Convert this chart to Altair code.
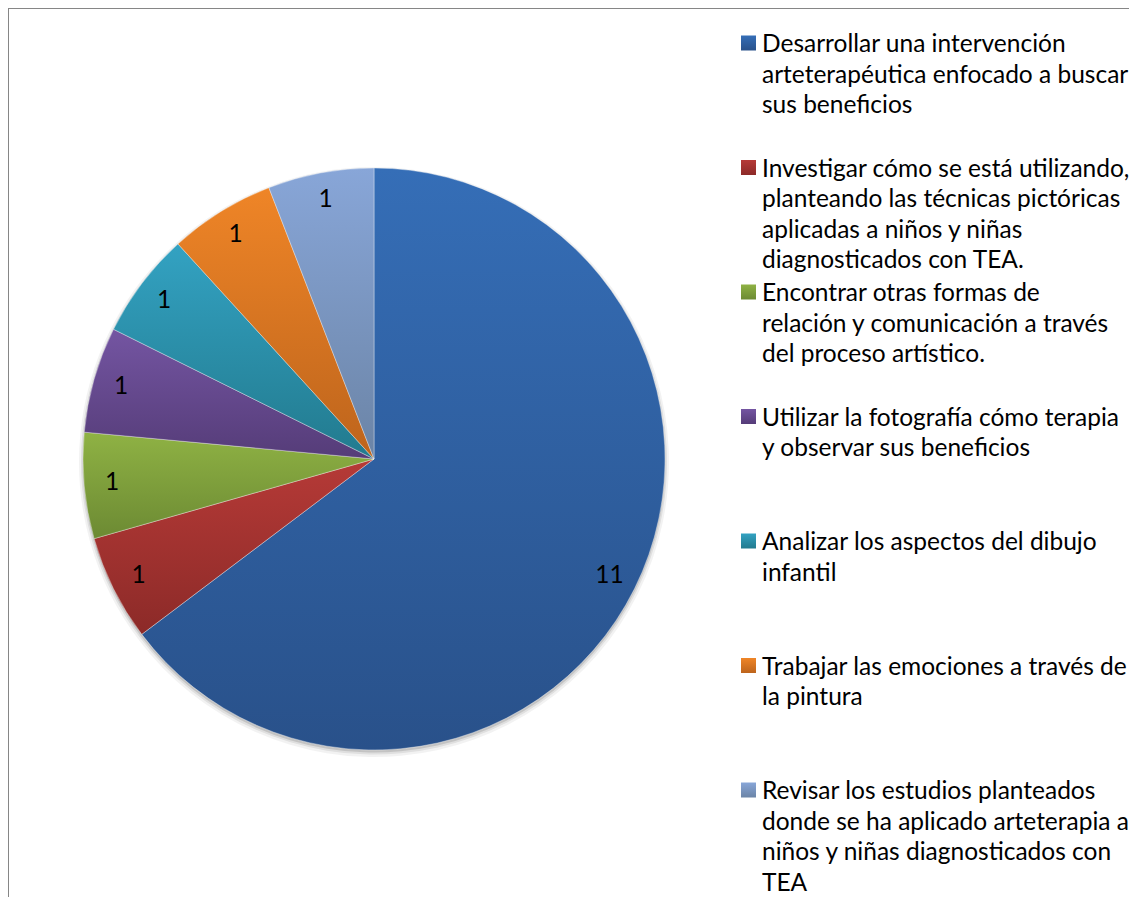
import math
import altair as alt
import pandas as pd

# ---- data ----
legend_lines = [
    ["Desarrollar una intervención", "arteterapéutica enfocado a buscar", "sus beneficios"],
    ["Investigar cómo se está utilizando,", "planteando las técnicas pictóricas",
     "aplicadas a niños y niñas", "diagnosticados con TEA."],
    ["Encontrar otras formas de", "relación y comunicación a través", "del proceso artístico."],
    ["Utilizar la fotografía cómo terapia", "y observar sus beneficios"],
    ["Analizar los aspectos del dibujo", "infantil"],
    ["Trabajar las emociones a través de", "la pintura"],
    ["Revisar los estudios planteados", "donde se ha aplicado arteterapia a",
     "niños y niñas diagnosticados con", "TEA"],
]
categories = [" ".join(l) for l in legend_lines]
values = [11, 1, 1, 1, 1, 1, 1]
colors_top = ["#356eb7", "#b63a37", "#8fb244", "#7455a2", "#33a2c2", "#ef8527", "#88a6d8"]
colors_bottom = ["#29518a", "#8c2a28", "#6c8a33", "#553c78", "#227a8e", "#bd641c", "#6b84a6"]

# ---- layout ----
W, H = 1121, 889
CX, CY, R = 366, 451, 291
LABEL_R = 263
FONT = "Lato"
FS = 24.5
SLOT, LINE = 124.5, 30.5

total = sum(values)
pie_df = pd.DataFrame({"category": categories, "value": values, "order": list(range(len(values)))})

rows = []
for k, lines in enumerate(legend_lines):
    for i, t in enumerate(lines):
        rows.append({"category": categories[k], "k": k, "line": i, "text": t,
                     "pos": k + i * (LINE / SLOT)})
leg_df = pd.DataFrame(rows)

theta_scale = alt.Scale(domain=[0, total], range=[0, 2 * math.pi])
y_scale = alt.Scale(domain=[0, 7], range=[44, 44 + 7 * SLOT])


def grad(top, bottom):
    return {"gradient": "linear", "x1": 0, "y1": 0, "x2": 0, "y2": 1,
            "stops": [{"offset": 0, "color": top}, {"offset": 1, "color": bottom}]}


def pie_base():
    return (alt.Chart(pie_df)
            .transform_window(cum="sum(value)", sort=[alt.SortField("order")], frame=[None, 0])
            .transform_calculate(start="datum.cum - datum.value",
                                 mid="datum.cum - datum.value / 2"))


layers = []
# soft shadow under the pie
for rr, op, dy in [(R + 4, 0.05, 3), (R + 2, 0.08, 2.5), (R + 0.5, 0.12, 2)]:
    layers.append(
        pie_base().mark_arc(outerRadius=rr, fill="#000000", opacity=op, stroke=None)
        .encode(theta=alt.Theta("start:Q", scale=theta_scale, stack=None),
                theta2="cum:Q", x=alt.value(CX), y=alt.value(CY + dy))
    )

for i in range(len(values)):
    layers.append(
        pie_base().transform_filter(alt.datum.order == i)
        .mark_arc(outerRadius=R, fill=grad(colors_top[i], colors_bottom[i]),
                  stroke="#ffffff", strokeWidth=0.7, strokeOpacity=0.5)
        .encode(theta=alt.Theta("start:Q", scale=theta_scale, stack=None),
                theta2="cum:Q",
                x=alt.value(CX), y=alt.value(CY))
    )

labels = (pie_base()
          .mark_text(font=FONT, fontSize=FS, color="#000000", align="center", baseline="middle")
          .encode(theta=alt.Theta("mid:Q", scale=theta_scale, stack=None),
                  radius=alt.value(LABEL_R),
                  text="value:Q",
                  x=alt.value(CX), y=alt.value(CY)))
layers.append(labels)

for i in range(len(values)):
    layers.append(
        alt.Chart(leg_df).transform_filter((alt.datum.k == i) & (alt.datum.line == 0))
        .mark_square(size=225, fill=grad(colors_top[i], colors_bottom[i]), opacity=1, yOffset=-9)
        .encode(x=alt.value(740.5), y=alt.Y("pos:Q", scale=y_scale, axis=None))
    )

leg_text = (alt.Chart(leg_df)
            .mark_text(font=FONT, fontSize=FS, color="#000000", align="left", baseline="alphabetic")
            .encode(x=alt.value(754), y=alt.Y("pos:Q", scale=y_scale, axis=None), text="text:N"))
layers.append(leg_text)

border_top = alt.Chart(pie_df).mark_rule(color="#868686", strokeWidth=1.2).encode(
    x=alt.value(0), x2=alt.value(W), y=alt.value(0))
border_left = alt.Chart(pie_df).mark_rule(color="#868686", strokeWidth=1.2).encode(
    x=alt.value(0), y=alt.value(0), y2=alt.value(H))
layers += [border_top, border_left]

chart = (alt.layer(*layers)
         .properties(width=W, height=H, padding=0, autosize=alt.AutoSizeParams(type="none"),
                     background="#ffffff")
         .configure_view(stroke=None))

chart.save("out.html", embed_options={"renderer": "svg", "actions": False})
